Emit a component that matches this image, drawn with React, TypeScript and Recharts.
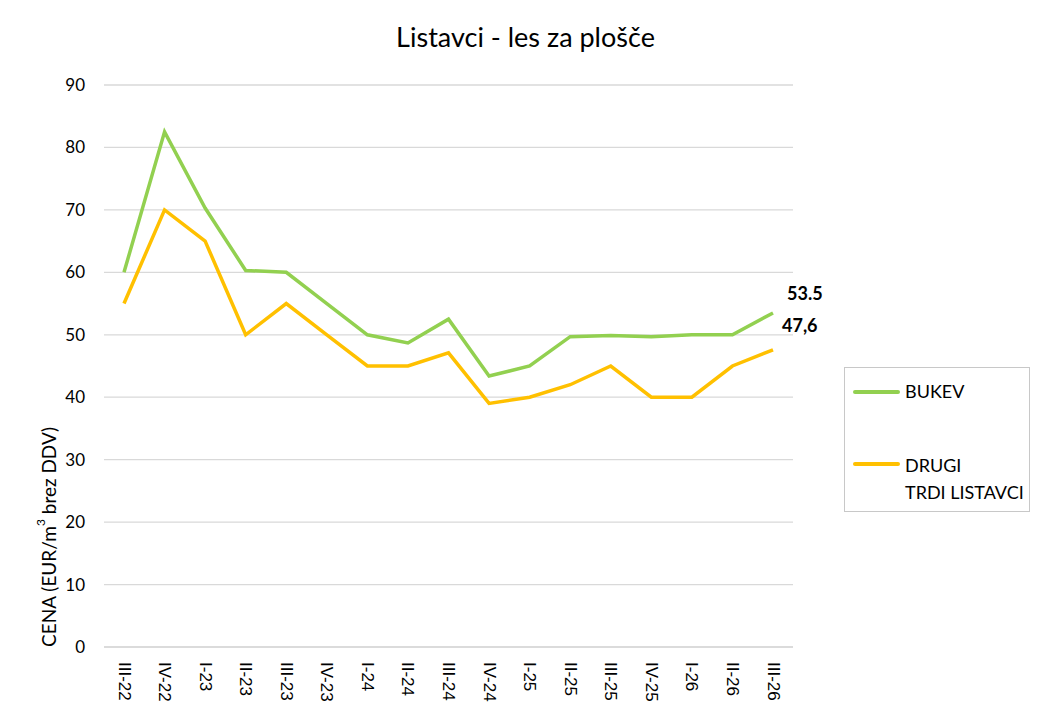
import React from "react";
import {
  LineChart,
  Line,
  XAxis,
  YAxis,
  CartesianGrid,
  LabelList,
} from "recharts";

const periods = [
  "III-22", "IV-22", "I-23", "II-23", "III-23", "IV-23", "I-24", "II-24", "III-24",
  "IV-24", "I-25", "II-25", "III-25", "IV-25", "I-26", "II-26", "III-26",
];
const bukev = [60, 82.5, 70.3, 60.3, 60, 55, 50, 48.7, 52.5, 43.4, 45, 49.7, 49.9, 49.7, 50, 50, 53.5];
const drugi = [55, 70, 65, 50, 55, 50, 45, 45, 47.1, 39, 40, 42, 45, 40, 40, 45, 47.6];
const endLabels = ["53.5", "47,6"];
const yTicks = [0, 10, 20, 30, 40, 50, 60, 70, 80, 90];

const data = periods.map((p, i) => ({ period: p, bukev: bukev[i], drugi: drugi[i] }));

const font = "Lato, 'Open Sans', sans-serif";

const XTick = (props: any) => {
  const { x, y, payload } = props;
  return (
    <text
      x={x}
      y={y}
      transform={`rotate(90, ${x}, ${y})`}
      textAnchor="start"
      dominantBaseline="central"
      fontFamily="'Liberation Sans', Arial, sans-serif"
      fontSize={17}
      fill="#000"
    >
      {payload.value}
    </text>
  );
};

// value label only on the last point
const endLabel = (text: string, dx: number, dy: number) => (props: any) => {
  const { x, y, index } = props;
  if (index !== periods.length - 1) return null;
  return (
    <text
      x={x + dx}
      y={y + dy}
      fontFamily={font}
      fontWeight="bold"
      fontSize={18}
      fill="#000"
      dominantBaseline="central"
    >
      {text}
    </text>
  );
};

const YLabel = () => (
  <text
    x={48}
    y={537}
    transform="rotate(-90, 48, 537)"
    textAnchor="middle"
    dominantBaseline="central"
    fontFamily={font}
    fontSize={19}
    fill="#000"
  >
    <tspan>CENA (EUR/m</tspan>
    <tspan baselineShift="super" fontSize={12}>3</tspan>
    <tspan> brez DDV)</tspan>
  </text>
);

const LegendBox = () => (
  <div
    style={{
      position: "absolute",
      left: 844,
      top: 367,
      width: 186,
      height: 145,
      border: "1px solid #c8c8c8",
      boxSizing: "border-box",
      fontFamily: font,
      fontSize: 18,
      background: "#fff",
    }}
  >
    <div style={{ position: "absolute", left: 8, top: 22, width: 47, height: 4, background: "#92D050", borderRadius: 2 }} />
    <div style={{ position: "absolute", left: 60, top: 12, lineHeight: "22px" }}>BUKEV</div>
    <div style={{ position: "absolute", left: 8, top: 94, width: 47, height: 4, background: "#FFC000", borderRadius: 2 }} />
    <div style={{ position: "absolute", left: 60, top: 84, lineHeight: "27px" }}>
      DRUGI
      <br />
      TRDI LISTAVCI
    </div>
  </div>
);

export default function App() {
  return (
    <div style={{ position: "absolute", left: 0, top: 0, width: 1051, height: 720, background: "#fff" }}>
      <div
        style={{
          position: "absolute",
          left: 0,
          top: 20,
          width: 1051,
          textAlign: "center",
          fontFamily: font,
          fontSize: 27,
          color: "#000",
        }}
      >
        Listavci - les za plošče
      </div>
      <LineChart
        width={1051}
        height={720}
        data={data}
        margin={{ top: 85, right: 258, left: 44, bottom: 13 }}
      >
        <CartesianGrid horizontal vertical={false} stroke="#d9d9d9" strokeWidth={1.3} />
        <XAxis
          dataKey="period"
          height={60}
          tickLine={false}
          axisLine={{ stroke: "#d9d9d9", strokeWidth: 1.3 }}
          tick={<XTick />}
          tickMargin={9}
          interval={0}
          padding={{ left: 20, right: 20 }}
        />
        <YAxis
          width={60}
          domain={[0, 90]}
          ticks={yTicks}
          axisLine={false}
          tickLine={false}
          tickMargin={13}
          tick={{ fontFamily: font, fontSize: 17, fill: "#000" }}
          label={<YLabel />}
        />
        <Line
          dataKey="bukev"
          name="BUKEV"
          stroke="#92D050"
          strokeWidth={3.5}
          dot={false}
          isAnimationActive={false}
        >
          <LabelList dataKey="bukev" content={endLabel(endLabels[0], 14, -20)} />
        </Line>
        <Line
          dataKey="drugi"
          name="DRUGI TRDI LISTAVCI"
          stroke="#FFC000"
          strokeWidth={3.5}
          dot={false}
          isAnimationActive={false}
        >
          <LabelList dataKey="drugi" content={endLabel(endLabels[1], 9, -25)} />
        </Line>
      </LineChart>
      <LegendBox />
    </div>
  );
}
